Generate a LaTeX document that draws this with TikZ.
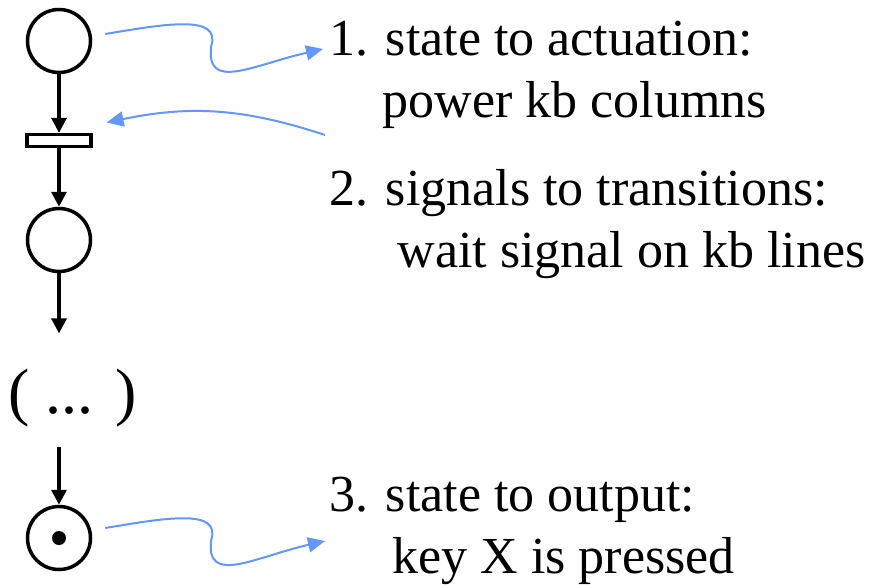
\documentclass[tikz,border=0pt]{standalone}
\usepackage{fontspec}
\setmainfont{Liberation Serif}
\usetikzlibrary{arrows.meta, petri}

\definecolor{signalblue}{RGB}{100,150,255}

\begin{document}
\begin{tikzpicture}[
            x = 1pt, y = -1pt, % pixel-like coordinates
            > = {Triangle[length=15pt, width=15pt]}, % arrow head style
            line width = 3.2pt, % line style
            node distance = 99.5pt, % distance between nodes
            font = \fontsize{52}{62}\selectfont
        ]

        \tikzstyle{every place}=[
            draw = black,
            line width = 3.5pt,
            fill = white,
            minimum size = 63pt,
            inner sep = 0pt
        ]

        \tikzstyle{every transition}=[
            draw = black,
            line width = 3.2pt,
            fill = white,
            minimum width = 64pt,
            minimum height = 12pt,
            inner sep = 0pt
        ]

        \tikzstyle{every token}=[
            circle,
            fill = black,
            inner sep = 0pt,
            minimum size = 14pt
        ]

        \tikzstyle{signal}=[
            -{Triangle[length=17pt, width=15pt]},
            draw = signalblue,
            line width = 2pt
        ]

        \tikzstyle{item}=[
            anchor = base west, % base of the last line
            align = left,
            inner sep = 0pt
        ]

        \useasboundingbox (0,0) rectangle (880,584);

        \node[place] (P1) at (59,41) {};
        \node[transition] (T1) [below of=P1] {};
        \node[place] (P2) [below of=T1] {};
        \node (dots) [below of=P2, node distance=150pt, xshift=13.5pt,
            font=\fontsize{64}{64}\selectfont,
            text height=78pt, text depth=32pt, inner sep=0pt] {( ... )};
        \node[place, tokens=1] (P3) [below of=P2, node distance=298pt] {};

        \node[item] (S1) at (328,117) {1. state to actuation:\\\hspace*{53pt}power kb columns};
        \node[item] (S2) at (328,267) {2. signals to transitions:\\\hspace*{68pt}wait signal on kb lines};
        \node[item] (S3) at (328,573) {3. state to output:\\\hspace*{63pt}key X is pressed};

        \draw[->] (P1) -- (T1);
        \draw[->] (T1) -- (P2);
        \draw[->] (P2) -- (P2 |- dots.north);
        \draw[->] (P3 |- dots.south) -- (P3);

        \draw[signal] ([shift={(13pt,7pt)}]P1.east)
            .. controls +(60pt,10pt) and +(10pt,32pt) .. ++(106,12)
            .. controls +(-6pt,-46pt) and +(-70pt,-16pt) .. ([shift={(-5pt,68pt)}]S1.base west);
        \draw[signal] ([shift={(-3pt,132pt)}]S2.base west) to[bend right=15] ([shift={(14pt,18pt)}]T1.east);
        \draw[signal] ([shift={(13pt,10pt)}]P3.east)
            .. controls +(60pt,10pt) and +(10pt,32pt) .. ++(106,12)
            .. controls +(-6pt,-46pt) and +(-70pt,-16pt) .. ([shift={(-3pt,32pt)}]S3.base west);

    \end{tikzpicture}
\end{document}
